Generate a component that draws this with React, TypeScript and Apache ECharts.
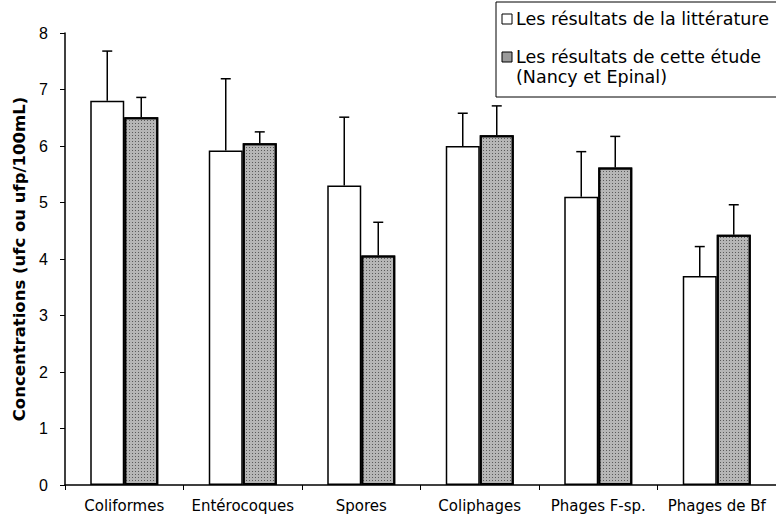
import React, { useEffect, useRef } from "react";
import * as echarts from "echarts";

const categories = ["Coliformes", "Entérocoques", "Spores", "Coliphages", "Phages F-sp.", "Phages de Bf"];
const litterature = [6.8, 5.92, 5.3, 6.0, 5.1, 3.7];
const litteratureUpper = [7.68, 7.19, 6.51, 6.58, 5.9, 4.22];
const etude = [6.51, 6.05, 4.06, 6.19, 5.62, 4.43];
const etudeUpper = [6.86, 6.25, 4.65, 6.71, 6.17, 4.96];
const yTicks = [0, 1, 2, 3, 4, 5, 6, 7, 8];
const legendLabels = ["Les résultats de la littérature", "Les résultats de cette étude", "(Nancy et Epinal)"];
const yAxisTitle = "Concentrations (ufc ou ufp/100mL)";

const BAR_W = 34;
const GRAY = "#b6b6b6";

function errorSeries(values: number[], uppers: number[], offset: number) {
  return {
    type: "custom",
    z: 5,
    data: values.map((v, i) => [i, v, uppers[i]]),
    renderItem: (params: any, api: any) => {
      const base = api.coord([api.value(0), api.value(1)]);
      const top = api.coord([api.value(0), api.value(2)]);
      const x = base[0] + offset;
      return {
        type: "group",
        children: [
          { type: "line", shape: { x1: x, y1: base[1], x2: x, y2: top[1] }, style: { stroke: "#000", lineWidth: 1.5 } },
          { type: "line", shape: { x1: x - 5, y1: top[1], x2: x + 5, y2: top[1] }, style: { stroke: "#000", lineWidth: 1.5 } },
        ],
      };
    },
  };
}

export default function App() {
  const ref = useRef<HTMLDivElement>(null);
  useEffect(() => {
    if (!ref.current) return;
    const chart = echarts.init(ref.current, null, { renderer: "svg" });
    chart.setOption({
      animation: false,
      backgroundColor: "#fff",
      grid: { left: 65, top: 33, width: 720, height: 452, containLabel: false },
      xAxis: {
        type: "category",
        data: categories,
        axisLine: { lineStyle: { color: "#000", width: 1.5 } },
        axisTick: { show: true, length: 5, lineStyle: { color: "#000" } },
        axisLabel: { color: "#000", fontFamily: "DejaVu Sans", fontSize: 15, margin: 13, interval: 0 },
      },
      yAxis: {
        type: "value",
        min: yTicks[0],
        max: yTicks[yTicks.length - 1],
        interval: 1,
        name: yAxisTitle,
        nameLocation: "middle",
        nameGap: 33,
        nameTextStyle: { color: "#000", fontFamily: "DejaVu Sans", fontWeight: "bold", fontSize: 16.5 },
        splitLine: { show: false },
        axisLine: { show: true, lineStyle: { color: "#000", width: 1.5 } },
        axisTick: { show: true, length: 5, lineStyle: { color: "#000" } },
        axisLabel: { color: "#000", fontFamily: "Liberation Sans", fontSize: 16, margin: 17 },
      },
      series: [
        {
          type: "bar",
          name: legendLabels[0],
          data: litterature,
          barWidth: BAR_W,
          barGap: "0%",
          itemStyle: { color: "#fff", borderColor: "#000", borderWidth: 1.5 },
        },
        {
          type: "bar",
          name: legendLabels[1],
          data: etude,
          barWidth: BAR_W,
          barGap: "0%",
          itemStyle: {
            color: GRAY,
            borderColor: "#000",
            borderWidth: 2,
            decal: {
              symbol: "rect",
              symbolSize: 1,
              dashArrayX: [1, 2],
              dashArrayY: [1, 2],
              rotation: 0,
              color: "rgba(30,30,30,0.6)",
            },
          },
        },
        errorSeries(litterature, litteratureUpper, -BAR_W / 2),
        errorSeries(etude, etudeUpper, BAR_W / 2),
      ],
      graphic: [
        { type: "rect", shape: { x: 496, y: 2, width: 300, height: 95 }, style: { fill: "#fff", stroke: "#000", lineWidth: 1 }, z: 10 },
        { type: "rect", shape: { x: 502, y: 14, width: 10, height: 10 }, style: { fill: "#fff", stroke: "#000", lineWidth: 1 }, z: 11 },
        { type: "rect", shape: { x: 502, y: 52, width: 10, height: 10 }, style: { fill: "#9a9a9a", stroke: "#000", lineWidth: 1 }, z: 11 },
        { type: "text", x: 516, y: 19, style: { text: legendLabels[0], fill: "#000", font: "17.5px 'DejaVu Sans'", textVerticalAlign: "middle" }, z: 11 },
        { type: "text", x: 516, y: 57, style: { text: legendLabels[1], fill: "#000", font: "17.5px 'DejaVu Sans'", textVerticalAlign: "middle" }, z: 11 },
        { type: "text", x: 516, y: 77, style: { text: legendLabels[2], fill: "#000", font: "17.5px 'DejaVu Sans'", textVerticalAlign: "middle" }, z: 11 },
      ],
    });
    return () => chart.dispose();
  }, []);
  return <div ref={ref} style={{ position: "absolute", left: 0, top: 0, width: 776, height: 518 }} />;
}
